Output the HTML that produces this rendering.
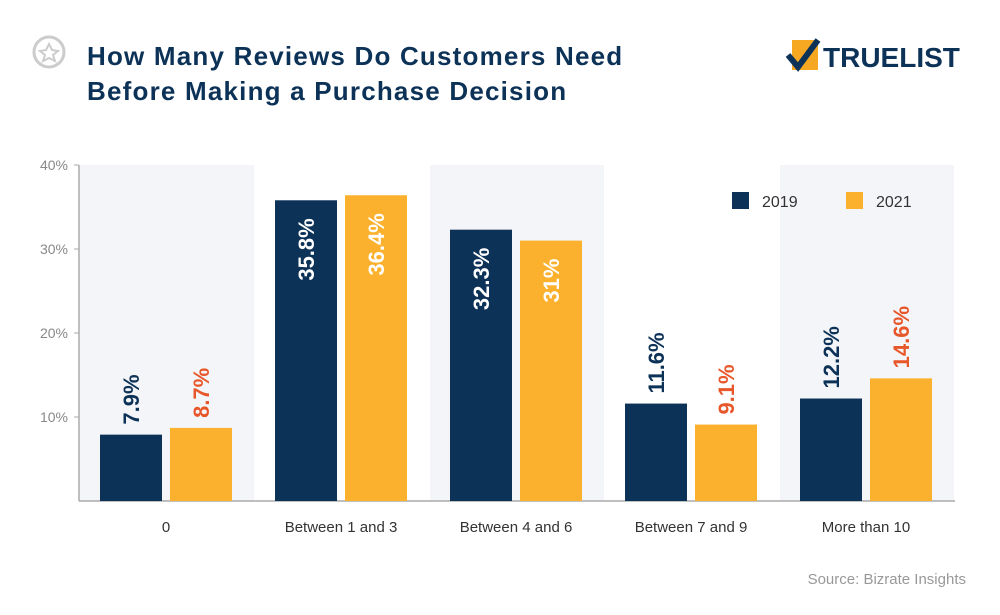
<!DOCTYPE html>
<html><head><meta charset="utf-8"><style>
body{margin:0;background:#fff;width:1000px;height:610px;overflow:hidden;font-family:"Liberation Sans",sans-serif}
</style></head><body>
<svg width="1000" height="610" viewBox="0 0 1000 610">
<g>
<circle cx="49" cy="52" r="15" fill="none" stroke="#ccc" stroke-width="3"/>
<polygon points="49,44 52,50 58,51 53,55 55,61 49,58 43,61 45,55 40,51 46,50" fill="none" stroke="#ccc" stroke-width="2"/>
</g>
<text x="87" y="65" font-size="26" font-weight="bold" fill="#0d3257" letter-spacing="1.2">How Many Reviews Do Customers Need</text>
<text x="87" y="100" font-size="26" font-weight="bold" fill="#0d3257" letter-spacing="1.2">Before Making a Purchase Decision</text>
<g>
<rect x="792" y="40" width="26" height="30" fill="#f7a823"/>
<path d="M788 55 L798 67 L818 40" fill="none" stroke="#0d3257" stroke-width="6"/>
<text x="823" y="67" font-size="28" font-weight="bold" fill="#0d3257">TRUELIST</text>
</g>
<g id="plot"></g>
<text x="966" y="584" text-anchor="end" font-size="15" fill="#999">Source: Bizrate Insights</text>
</svg>
<script>
const categories=["0","Between 1 and 3","Between 4 and 6","Between 7 and 9","More than 10"];
const values2019=[7.9,35.8,32.3,11.6,12.2];
const values2021=[8.7,36.4,31,9.1,14.6];
const labels2019=["7.9%","35.8%","32.3%","11.6%","12.2%"];
const labels2021=["8.7%","36.4%","31%","9.1%","14.6%"];
const yTicks=[10,20,30,40];
const yTickLabels=["10%","20%","30%","40%"];
const ns="http://www.w3.org/2000/svg";
const g=document.getElementById('plot');
const x0=80,bandW=175,y0=501,yScale=8.4;
const y=v=>y0-v*yScale;
function mk(t,a,txt){const e=document.createElementNS(ns,t);for(const k in a)e.setAttribute(k,a[k]);if(txt!==undefined)e.textContent=txt;g.appendChild(e);return e;}
categories.forEach((c,i)=>{
 if(i%2===0){const b=mk('rect',{x:x0+i*bandW,y:165,width:bandW-1,height:y0-165,fill:'#f4f5f8'});
 
 }
});
const ax=mk('line',{x1:79,y1:165,x2:79,y2:y0,stroke:'#aaa','stroke-width':1.5});


const bx=mk('line',{x1:79,y1:y0,x2:955,y2:y0,stroke:'#aaa','stroke-width':1.5});


yTicks.forEach((t,i)=>{
 const l=mk('line',{x1:74,x2:79,y1:y(t),y2:y(t),stroke:'#aaa'});
 
 
 const tx=mk('text',{x:68,y:y(t)+5,'text-anchor':'end','font-size':14,fill:'#888'},yTickLabels[i]);
 
 
});
function bar(i,v,lab,off,color,lblColor,name){
 const bx=x0+i*bandW+off, w=62, top=y(v);
 const r=mk('rect',{x:bx,y:top,width:w,height:y0-top,fill:color});
 
 
 const cx=bx+w/2+8;
 let t;
 if(v>20){t=mk('text',{x:0,y:0,'font-size':22,'font-weight':'bold',fill:'#fff','text-anchor':'end',transform:`translate(${cx},${top+18}) rotate(-90)`},lab);}
 else{t=mk('text',{x:0,y:0,'font-size':22,'font-weight':'bold',fill:lblColor,'text-anchor':'start',transform:`translate(${cx},${top-10}) rotate(-90)`},lab);}
 
 
}
categories.forEach((c,i)=>{
 bar(i,values2019[i],labels2019[i],20,'#0d3257','#0d3257','2019');
 bar(i,values2021[i],labels2021[i],90,'#fbb12d','#e8572a','2021');
 const t=mk('text',{x:x0+i*bandW+86,y:532,'text-anchor':'middle','font-size':15,fill:'#333'},c);
 
 
});
[['2019','#0d3257',732],['2021','#fbb12d',846]].forEach(([n,col,lx])=>{
 const r=mk('rect',{x:lx,y:192,width:17,height:17,fill:col});
 
 
 const t=mk('text',{x:lx+30,y:207,'font-size':16,fill:'#333'},n);
 
 
});
</script>
</body></html>
